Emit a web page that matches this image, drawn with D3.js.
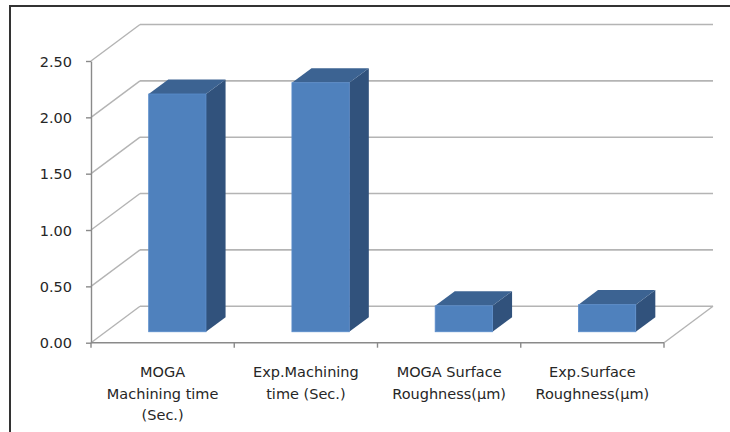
<!DOCTYPE html>
<html>
<head>
<meta charset="utf-8">
<script src="https://cdn.jsdelivr.net/npm/d3@7"></script>
<style>
  html, body { margin: 0; padding: 0; background: #fff; }
  svg { display: block; }
  text { font-family: "DejaVu Sans", sans-serif; font-size: 14.5px; fill: #262626; }
</style>
</head>
<body>
<svg id="chart" width="730" height="432"></svg>
<script>
// ---- data ----
const categories = [
  "MOGA Machining time (Sec.)",
  "Exp.Machining time (Sec.)",
  "MOGA Surface Roughness(µm)",
  "Exp.Surface Roughness(µm)"
];
const categoryLines = [
  ["MOGA", "Machining time", "(Sec.)"],
  ["Exp.Machining", "time (Sec.)"],
  ["MOGA Surface", "Roughness(µm)"],
  ["Exp.Surface", "Roughness(µm)"]
];
const values = [2.11, 2.21, 0.23, 0.24];
const yTicks = [0, 0.5, 1.0, 1.5, 2.0, 2.5];
const yTickLabels = ["0.00", "0.50", "1.00", "1.50", "2.00", "2.50"];

// ---- layout ----
const svg = d3.select("#chart");
const x0 = 91, x1 = 664;          // front floor edge
const yBase = 342.7, yTop = 61;    // front plane y range
const depth = { dx: 49, dy: -36.5 }; // full depth vector
const barDepthFront = 0.3, barDepthBack = 0.7;

const x = d3.scaleBand().domain(categories).range([x0, x1])
  .paddingInner(0.6).paddingOuter(0.3);
const y = d3.scaleLinear().domain([0, 2.5]).range([yBase, yTop]);

// outer frame
svg.append("rect")
  .attr("x", 10).attr("y", 6).attr("width", 760).attr("height", 460)
  .attr("fill", "none").attr("stroke", "#333").attr("stroke-width", 2);

const gridColor = "#b4b4b4";
const axisColor = "#8a8a8a";

// back wall gridlines
svg.append("g").selectAll("line").data(yTicks).join("line")
  .attr("x1", x0 + depth.dx).attr("x2", x1 + depth.dx)
  .attr("y1", d => y(d) + depth.dy).attr("y2", d => y(d) + depth.dy)
  .attr("stroke", gridColor).attr("stroke-width", 1.6);

// side wall diagonals
svg.append("g").selectAll("line").data(yTicks).join("line")
  .attr("x1", x0).attr("y1", d => y(d))
  .attr("x2", x0 + depth.dx).attr("y2", d => y(d) + depth.dy)
  .attr("stroke", gridColor).attr("stroke-width", 1.4);

// floor right diagonal
svg.append("line")
  .attr("x1", x1).attr("y1", y(0))
  .attr("x2", x1 + depth.dx).attr("y2", y(0) + depth.dy)
  .attr("stroke", gridColor).attr("stroke-width", 1.4);

// bars
const bars = svg.append("g").selectAll("g").data(categories).join("g");
const fx = d => x(d) + barDepthFront * depth.dx;
const fdy = barDepthFront * depth.dy;
const bdx = (barDepthBack - barDepthFront) * depth.dx;
const bdy = (barDepthBack - barDepthFront) * depth.dy;
const w = x.bandwidth();

// side face
bars.append("path")
  .attr("d", (d, i) => {
    const xr = fx(d) + w, yt = y(values[i]) + fdy, yb = y(0) + fdy;
    return `M${xr},${yt}L${xr + bdx},${yt + bdy}L${xr + bdx},${yb + bdy}L${xr},${yb}Z`;
  })
  .attr("fill", "#31527c");
// top face
bars.append("path")
  .attr("d", (d, i) => {
    const xl = fx(d), yt = y(values[i]) + fdy;
    return `M${xl},${yt}L${xl + bdx},${yt + bdy}L${xl + w + bdx},${yt + bdy}L${xl + w},${yt}Z`;
  })
  .attr("fill", "#3c6392");
// front face
bars.append("rect")
  .attr("x", d => fx(d))
  .attr("y", (d, i) => y(values[i]) + fdy)
  .attr("width", w)
  .attr("height", (d, i) => y(0) - y(values[i]))
  .attr("fill", "#4f81bd")
  .attr("stroke", "#5a8ccb").attr("stroke-width", 0.8);

// front floor edge + category ticks
const step = x.step();
const boundaries = categories.map(d => x(d) - x.paddingOuter() * step).concat([x1]);
svg.append("line")
  .attr("x1", x0).attr("x2", x1).attr("y1", y(0)).attr("y2", y(0))
  .attr("stroke", axisColor).attr("stroke-width", 1.4);
svg.append("g").selectAll("line").data(boundaries).join("line")
  .attr("x1", d => d).attr("x2", d => d)
  .attr("y1", y(0)).attr("y2", y(0) + 5)
  .attr("stroke", axisColor).attr("stroke-width", 1.4);

// y axis
const yAxis = d3.axisLeft(y).tickValues(yTicks)
  .tickFormat((d, i) => yTickLabels[i])
  .tickSize(5).tickSizeOuter(0).tickPadding(14);
const gy = svg.append("g").attr("transform", `translate(${x0},0)`).call(yAxis);
gy.select(".domain").attr("stroke", axisColor).attr("stroke-width", 1.4);
gy.selectAll(".tick line").attr("stroke", axisColor).attr("stroke-width", 1.4);
gy.selectAll(".tick text")
  .attr("font-family", "DejaVu Sans, sans-serif").attr("font-size", 14.5)
  .attr("fill", "#262626").attr("dy", "0.36em");

// category labels
const lbl = svg.append("g").selectAll("text").data(categories).join("text")
  .attr("text-anchor", "middle")
  .attr("x", d => x(d) + w / 2)
  .attr("y", 377);
lbl.selectAll("tspan").data((d, i) => categoryLines[i]).join("tspan")
  .attr("x", function() { return d3.select(this.parentNode).attr("x"); })
  .attr("dy", (d, i) => i === 0 ? 0 : 21.7)
  .text(d => d);
</script>
</body>
</html>
